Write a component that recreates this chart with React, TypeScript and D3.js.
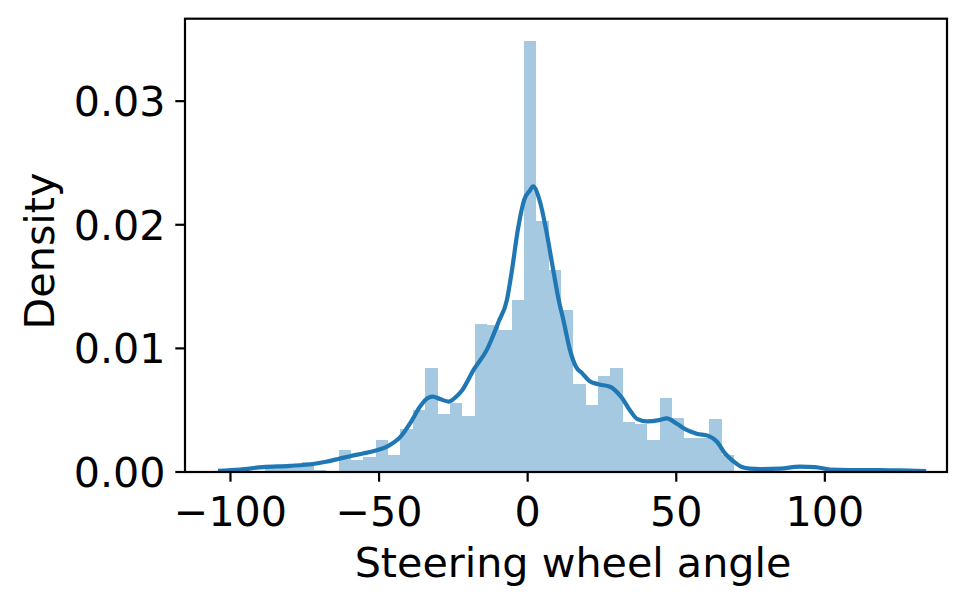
import React from "react";
import * as d3 from "d3";

// Histogram: bin index relative to the tall bin that starts just left of 0
const binOrigin = -1.25;
const binWidth = 4.155;
const binIndex = [-21, -20, -19, -18, -17, -16, -15, -14, -13, -12, -11, -10, -9, -8, -7, -6, -5, -4, -3, -2, -1, 0, 1, 2, 3, 4, 5, 6, 7, 8, 9, 10, 11, 12, 13, 14, 15, 16];
const binDensity = [0.00057, 0.0003, 0.0004, 0.0008, 0.0002, 0.0001, 0.0018, 0.00097, 0.00124, 0.0026, 0.00138, 0.0035, 0.005, 0.0084, 0.0047, 0.0056, 0.00453, 0.012, 0.0119, 0.0115, 0.0139, 0.0349, 0.0203, 0.01634, 0.0131, 0.00712, 0.00542, 0.00777, 0.0084, 0.00407, 0.00388, 0.00259, 0.006, 0.00437, 0.00275, 0.00275, 0.00429, 0.00138];

// KDE curve
const kdeX = [-104.2, -96.8, -89.1, -80.0, -72.2, -67.9, -63.8, -59.5, -55.4, -51.4, -47.0, -43.0, -38.9, -36.2, -33.5, -31.8, -29.5, -26.5, -24.5, -22.1, -18.1, -13.7, -9.7, -7.0, -5.3, -3.3, -1.2, 0.8, 1.8, 4.1, 6.2, 8.2, 10.2, 12.2, 14.2, 16.3, 18.3, 20.6, 23.7, 27.7, 31.7, 34.4, 36.8, 40.1, 44.2, 46.8, 50.2, 53.5, 56.9, 61.0, 63.7, 66.4, 69.4, 72.1, 74.8, 78.2, 84.9, 91.6, 96.7, 101.7, 108.5, 118.6, 125.3, 134.1];
const kdeY = [0.0001, 0.0002, 0.0004, 0.0005, 0.00065, 0.00083, 0.00105, 0.0013, 0.0015, 0.00172, 0.0021, 0.0028, 0.0042, 0.0053, 0.006, 0.0061, 0.0059, 0.0057, 0.006, 0.0066, 0.0083, 0.0099, 0.0122, 0.0139, 0.0163, 0.0196, 0.022, 0.0228, 0.0231, 0.0219, 0.0196, 0.0169, 0.0142, 0.0121, 0.0099, 0.0085, 0.008, 0.0074, 0.0071, 0.0069, 0.006, 0.005, 0.0043, 0.0041, 0.0042, 0.00434, 0.0039, 0.0034, 0.0031, 0.0029, 0.00245, 0.0015, 0.00083, 0.0004, 0.00027, 0.00024, 0.00027, 0.00043, 0.0004, 0.0002, 0.00016, 0.00016, 0.00013, 0.00008];

const xTicks = [-100, -50, 0, 50, 100];
const yTicks = [0, 0.01, 0.02, 0.03];
const xLabel = "Steering wheel angle";
const yLabel = "Density";

const W = 980;
const H = 607;
const left = 185;
const right = 947;
const top = 18.7;
const bottom = 472;
const font = "DejaVu Sans, Liberation Sans, sans-serif";
const fs = 41.25;

export default function App() {
  const x = d3.scaleLinear().domain([-115.3, 141.1]).range([left, right]);
  const y = d3.scaleLinear().domain([0, 0.03667]).range([bottom, top]);
  const line = d3
    .line<number>()
    .x((_, i) => x(kdeX[i]))
    .y((d) => y(d))
    .curve(d3.curveMonotoneX);
  const fmtX = (v: number) => (v < 0 ? "\u2212" + Math.abs(v) : String(v));
  return (
    <div style={{ position: "fixed", left: 0, top: 0, width: W, height: H, background: "#fff" }}>
      <svg width={W} height={H} style={{ display: "block" }}>
        <rect x={0} y={0} width={W} height={H} fill="#fff" />
        <g shapeRendering="crispEdges">
          {binIndex.map((b, i) => {
            const x0 = binOrigin + b * binWidth;
            const x1 = x0 + binWidth;
            return (
              <rect
                key={i}
                x={x(x0)}
                y={y(binDensity[i])}
                width={x(x1) - x(x0)}
                height={y(0) - y(binDensity[i])}
                fill="#1f77b4"
                fillOpacity={0.4}
              />
            );
          })}
        </g>
        <path d={line(kdeY) || ""} fill="none" stroke="#1f77b4" strokeWidth={4.2} strokeLinejoin="round" />
        <rect x={left} y={top} width={right - left} height={bottom - top} fill="none" stroke="#000" strokeWidth={2.2} />
        {xTicks.map((t) => (
          <g key={t}>
            <line x1={x(t)} x2={x(t)} y1={bottom} y2={bottom + 9.7} stroke="#000" strokeWidth={2.2} />
            <text x={x(t)} y={bottom + 54} textAnchor="middle" fontFamily={font} fontSize={fs} fill="#000">
              {fmtX(t)}
            </text>
          </g>
        ))}
        {yTicks.map((t) => (
          <g key={t}>
            <line x1={left - 9.7} x2={left} y1={y(t)} y2={y(t)} stroke="#000" strokeWidth={2.2} />
            <text x={left - 19.4} y={y(t) + 15} textAnchor="end" fontFamily={font} fontSize={fs} fill="#000">
              {t.toFixed(2)}
            </text>
          </g>
        ))}
        <text x={(left + right) / 2 + 7} y={577} textAnchor="middle" fontFamily={font} fontSize={fs} fill="#000">
          {xLabel}
        </text>
        <text
          transform={`translate(54, 251) rotate(-90)`}
          textAnchor="middle"
          fontFamily={font}
          fontSize={fs}
          fill="#000"
        >
          {yLabel}
        </text>
      </svg>
    </div>
  );
}
